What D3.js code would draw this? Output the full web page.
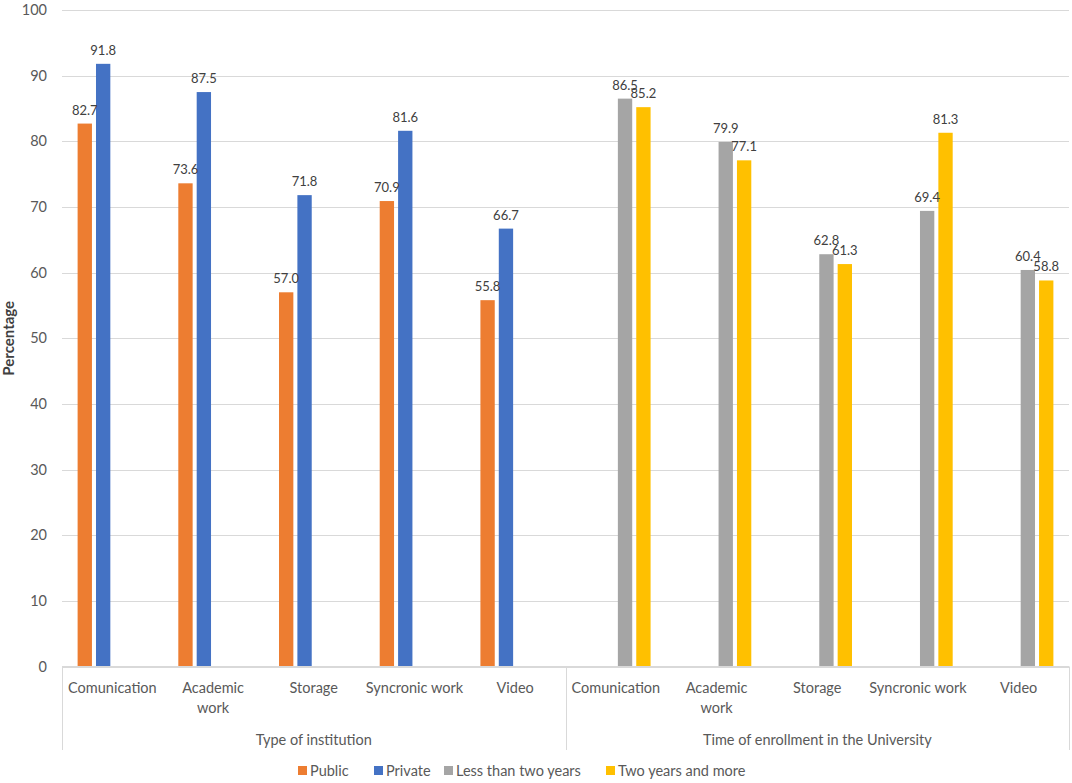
<!DOCTYPE html>
<html>
<head>
<meta charset="utf-8">
<script src="https://cdn.jsdelivr.net/npm/d3@7"></script>
<style>
  body { margin: 0; background: #fff; }
  svg text { font-family: Lato, "Open Sans", sans-serif; fill: #595959; }
</style>
</head>
<body>
<svg class="main" width="1072" height="783"></svg>
<script>
var categories = ["Comunication", "Academic work", "Storage", "Syncronic work", "Video"];
var groups = ["Type of institution", "Time of enrollment in the University"];
var seriesNames = ["Public", "Private", "Less than two years", "Two years and more"];
var seriesColors = ["#ED7D31", "#4472C4", "#A5A5A5", "#FFC000"];

// values per category, one array per series
var publicVals = [82.7, 73.6, 57.0, 70.9, 55.8];
var privateVals = [91.8, 87.5, 71.8, 81.6, 66.7];
var lessTwoVals = [86.5, 79.9, 62.8, 69.4, 60.4];
var twoMoreVals = [85.2, 77.1, 61.3, 81.3, 58.8];

var yTicks = [0, 10, 20, 30, 40, 50, 60, 70, 80, 90, 100];

// plot box (note: "top" is reserved on window, so prefixed names)
var pLeft = 62, pRight = 1069, pTop = 10, pBottom = 666.5;
var svg = d3.select("svg.main");

// one slot per (group, category)
var slots = [];
groups.forEach(function (g, gi) {
  categories.forEach(function (c, ci) {
    slots.push({ key: gi + "_" + ci, group: gi, cat: c });
  });
});

var rows = [];
slots.forEach(function (s, i) {
  var ci = i % categories.length;
  var vals = s.group === 0
    ? [publicVals[ci], privateVals[ci], null, null]
    : [null, null, lessTwoVals[ci], twoMoreVals[ci]];
  vals.forEach(function (v, si) {
    if (v != null) rows.push({ key: s.key, series: si, value: v });
  });
});

var x0 = d3.scaleBand().domain(slots.map(function (d) { return d.key; }))
  .range([pLeft, pRight]).paddingInner(0.31).paddingOuter(0.155);
var x1 = d3.scaleBand().domain(d3.range(seriesNames.length))
  .range([0, x0.bandwidth()]).paddingInner(0.22);
var y = d3.scaleLinear().domain([0, 100]).range([pBottom, pTop]);

// gridlines
svg.append("g").selectAll("line").data(yTicks).join("line")
  .attr("x1", pLeft).attr("x2", pRight)
  .attr("y1", function (d) { return Math.round(y(d)) + 0.5; })
  .attr("y2", function (d) { return Math.round(y(d)) + 0.5; })
  .attr("stroke", "#d9d9d9").attr("stroke-width", 1);

// y tick labels
svg.append("g").selectAll("text").data(yTicks).join("text")
  .attr("x", 47).attr("y", function (d) { return y(d); })
  .attr("dy", "0.35em").attr("text-anchor", "end")
  .style("font-size", "14.5px")
  .text(function (d) { return d; });

// y title
svg.append("text")
  .attr("transform", "translate(9," + (pTop + pBottom) / 2 + ") rotate(-90)")
  .attr("text-anchor", "middle").attr("dy", "0.35em")
  .style("font-size", "15px").style("font-weight", "bold")
  .style("fill", "#404040")
  .text("Percentage");

// bars
svg.append("g").selectAll("rect").data(rows).join("rect")
  .attr("x", function (d) { return x0(d.key) + x1(d.series); })
  .attr("width", x1.bandwidth())
  .attr("y", function (d) { return y(d.value); })
  .attr("height", function (d) { return y(0) - y(d.value); })
  .attr("fill", function (d) { return seriesColors[d.series]; });

// data labels
svg.append("g").selectAll("text").data(rows).join("text")
  .attr("x", function (d) { return x0(d.key) + x1(d.series) + x1.bandwidth() / 2; })
  .attr("y", function (d) { return y(d.value) - 9; })
  .attr("text-anchor", "middle")
  .style("font-size", "13px").style("fill", "#404040")
  .text(function (d) { return d.value.toFixed(1); });

// category labels
var step = x0.step();
var catLabels = svg.append("g").selectAll("text").data(slots).join("text")
  .attr("text-anchor", "middle")
  .style("font-size", "14.5px")
  .attr("transform", function (d) {
    return "translate(" + (x0(d.key) + x0.bandwidth() / 2) + ",693)";
  });
catLabels.each(function (d) {
  var parts = d.cat === "Academic work" ? ["Academic", "work"] : [d.cat];
  d3.select(this).selectAll("tspan").data(parts).join("tspan")
    .attr("x", 0).attr("dy", function (p, i) { return i === 0 ? 0 : 20; })
    .text(function (p) { return p; });
});

// axis line and group separators
svg.append("line").attr("x1", pLeft).attr("x2", pRight)
  .attr("y1", pBottom).attr("y2", pBottom)
  .attr("stroke", "#d9d9d9");
var seps = [pLeft, pLeft + step * categories.length, pRight];
svg.append("g").selectAll("line").data(seps).join("line")
  .attr("x1", function (d) { return Math.round(d) + 0.5; })
  .attr("x2", function (d) { return Math.round(d) + 0.5; })
  .attr("y1", pBottom).attr("y2", 750)
  .attr("stroke", "#d9d9d9");

// group labels
svg.append("g").selectAll("text").data(groups).join("text")
  .attr("x", function (d, i) { return pLeft + step * categories.length * (i + 0.5); })
  .attr("y", 745).attr("text-anchor", "middle")
  .style("font-size", "14.5px")
  .text(function (d) { return d; });

// legend
var legendX = [298, 374, 444, 606];
var legend = svg.append("g").selectAll("g").data(seriesNames).join("g")
  .attr("transform", function (d, i) { return "translate(" + legendX[i] + ",771)"; });
legend.append("rect").attr("x", 0).attr("y", -5).attr("width", 9).attr("height", 9)
  .attr("fill", function (d, i) { return seriesColors[i]; });
legend.append("text").attr("x", 12).attr("dy", "0.35em")
  .style("font-size", "14.5px")
  .text(function (d) { return d; });
</script>
</body>
</html>
